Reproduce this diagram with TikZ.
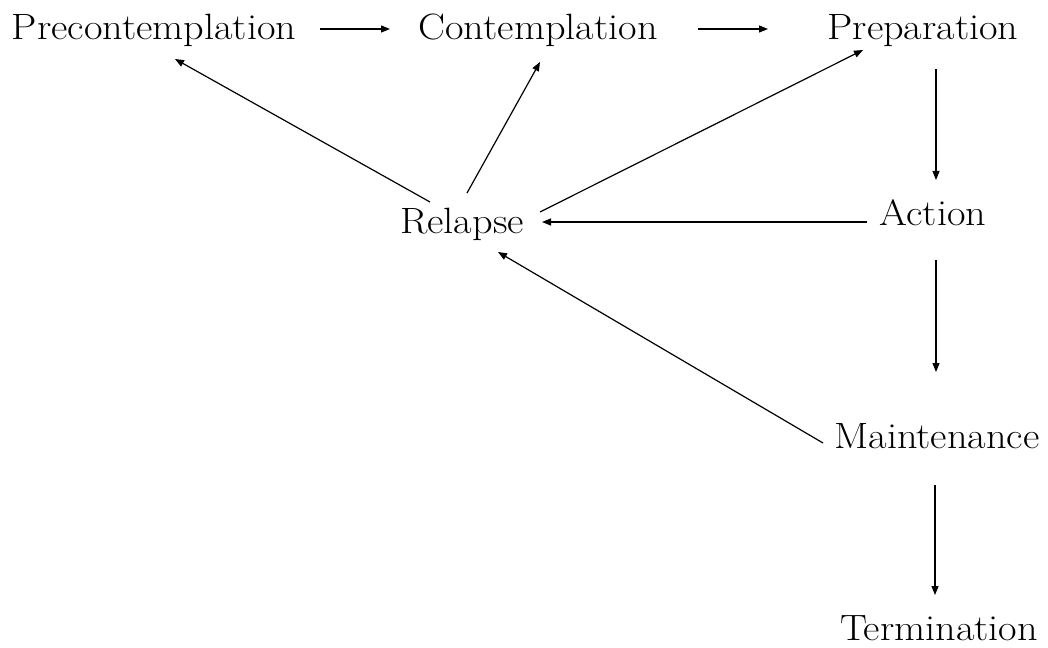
\documentclass[tikz,border=0pt]{standalone}
\usetikzlibrary{arrows.meta}
\newcommand{\widetxt}[1]{\scalebox{1.1}[1]{#1}}
\begin{document}
\begin{tikzpicture}[x=1pt,y=-1pt,
  lbl/.style={inner sep=0pt, anchor=base, font=\fontsize{36.6}{40}\selectfont},
  conn/.style={line width=1.2pt, -{Triangle[length=9pt,width=7pt]}}]
\useasboundingbox (0,0) rectangle (1048,647);
\node[lbl] (pre) at (154,40) {\widetxt{Precontemplation}};
\node[lbl] (con) at (538,40) {\widetxt{Contemplation}};
\node[lbl] (prep) at (923,40) {\widetxt{Preparation}};
\node[lbl] (rel) at (462,233) {\widetxt{Relapse}};
\node[lbl] (act) at (933,225) {\widetxt{Action}};
\node[lbl] (maint) at (937,448) {\widetxt{Maintenance}};
\node[lbl] (term) at (939,640) {\widetxt{Termination}};

\draw[conn] ([shift={(166,-11)}]pre.base) -- ([shift={(-148,-11)}]con.base);
\draw[conn] ([shift={(160,-11)}]con.base) -- ([shift={(-155,-11)}]prep.base);
\draw[conn] ([shift={(13,29)}]prep.base) -- ([shift={(3,-45)}]act.base);
\draw[conn] ([shift={(3,35)}]act.base) -- ([shift={(-1,-76)}]maint.base);
\draw[conn] ([shift={(-2,37)}]maint.base) -- ([shift={(-4,-45)}]term.base);
\draw[conn] ([shift={(-66,-3)}]act.base) -- ([shift={(80,-11)}]rel.base);
\draw[conn] ([shift={(-114,-5)}]maint.base) -- ([shift={(36,19)}]rel.base);
\draw[conn] ([shift={(-32,-31)}]rel.base) -- ([shift={(21,19)}]pre.base);
\draw[conn] ([shift={(5,-40)}]rel.base) -- ([shift={(2,22)}]con.base);
\draw[conn] ([shift={(78,-21)}]rel.base) -- ([shift={(-60,10)}]prep.base);
\end{tikzpicture}
\end{document}
